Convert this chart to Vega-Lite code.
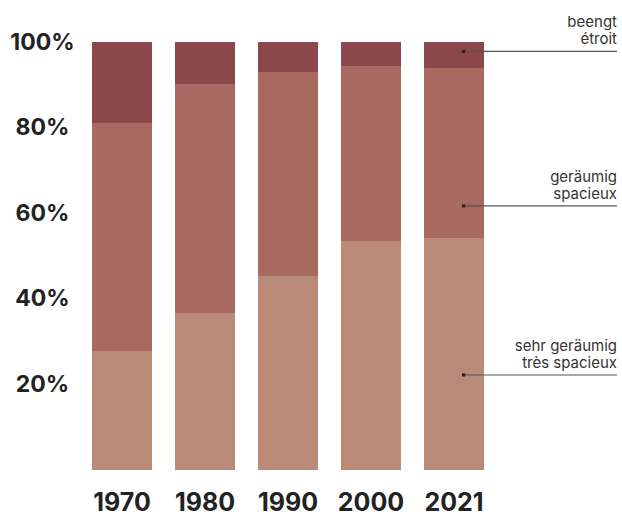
{
  "$schema": "https://vega.github.io/schema/vega-lite/v6.json",
  "width": 525,
  "height": 428,
  "autosize": {"type": "none"},
  "padding": {"left": 92, "top": 42, "right": 5, "bottom": 46},
  "background": "white",
  "config": {"view": {"stroke": null}, "font": "Inter"},
  "datasets": {
    "bars": [
      {"year": "1970", "category": "sehr geräumig", "rank": 1, "share": 27.6},
      {"year": "1970", "category": "geräumig", "rank": 2, "share": 53.5},
      {"year": "1970", "category": "beengt", "rank": 3, "share": 18.9},
      {"year": "1980", "category": "sehr geräumig", "rank": 1, "share": 36.7},
      {"year": "1980", "category": "geräumig", "rank": 2, "share": 53.3},
      {"year": "1980", "category": "beengt", "rank": 3, "share": 10.0},
      {"year": "1990", "category": "sehr geräumig", "rank": 1, "share": 45.3},
      {"year": "1990", "category": "geräumig", "rank": 2, "share": 47.7},
      {"year": "1990", "category": "beengt", "rank": 3, "share": 7.0},
      {"year": "2000", "category": "sehr geräumig", "rank": 1, "share": 53.5},
      {"year": "2000", "category": "geräumig", "rank": 2, "share": 40.7},
      {"year": "2000", "category": "beengt", "rank": 3, "share": 5.8},
      {"year": "2021", "category": "sehr geräumig", "rank": 1, "share": 54.2},
      {"year": "2021", "category": "geräumig", "rank": 2, "share": 39.7},
      {"year": "2021", "category": "beengt", "rank": 3, "share": 6.1}
    ],
    "labels": [
      {"year": "2021", "category": "beengt", "anchor": 97.8, "label": ["beengt", "étroit"]},
      {"year": "2021", "category": "geräumig", "anchor": 61.7, "label": ["geräumig", "spacieux"]},
      {"year": "2021", "category": "sehr geräumig", "anchor": 22.2, "label": ["sehr geräumig", "très spacieux"]}
    ]
  },
  "encoding": {
    "x": {
      "field": "year",
      "type": "nominal",
      "sort": null,
      "scale": {"domain": ["1970", "1980", "1990", "2000", "2021"], "paddingInner": 0.277, "paddingOuter": 0.801, "align": 0},
      "axis": {"title": null, "domain": false, "ticks": false, "labelAngle": 0, "labelFontSize": 25, "labelFontWeight": "bold", "labelColor": "#222222", "labelPadding": 20, "labelBaseline": "top"}
    }
  },
  "layer": [
    {
      "data": {"name": "bars"},
      "mark": {"type": "bar"},
      "encoding": {
        "y": {
          "field": "share",
          "type": "quantitative",
          "stack": "zero",
          "scale": {"domain": [0, 100], "nice": false},
          "axis": {"title": null, "domain": false, "ticks": false, "grid": false, "values": [20, 40, 60, 80, 100], "labelExpr": "datum.value + '%'", "labelFontSize": 23, "labelFontWeight": "bold", "labelColor": "#222222", "labelAlign": "center", "labelBaseline": "middle", "labelPadding": 50}
        },
        "color": {
          "field": "category",
          "type": "nominal",
          "scale": {"domain": ["sehr geräumig", "geräumig", "beengt"], "range": ["#B88A77", "#A86A60", "#8B474C"]},
          "legend": null
        },
        "order": {"field": "rank", "type": "quantitative"}
      }
    },
    {
      "data": {"name": "labels"},
      "mark": {"type": "rule", "color": "#555555", "strokeWidth": 1.2},
      "encoding": {
        "x": {"field": "year", "type": "nominal", "bandPosition": 0.66},
        "x2": {"value": "width"},
        "y": {"field": "anchor", "type": "quantitative"}
      }
    },
    {
      "data": {"name": "labels"},
      "mark": {"type": "square", "color": "#222222", "filled": true, "opacity": 1, "size": 10},
      "encoding": {
        "x": {"field": "year", "type": "nominal", "bandPosition": 0.66},
        "y": {"field": "anchor", "type": "quantitative"}
      }
    },
    {
      "data": {"name": "labels"},
      "mark": {"type": "text", "align": "right", "baseline": "alphabetic", "dy": -24, "fontSize": 15, "lineHeight": 17, "color": "#333333"},
      "encoding": {
        "x": {"value": "width"},
        "y": {"field": "anchor", "type": "quantitative"},
        "text": {"field": "label"}
      }
    }
  ]
}
